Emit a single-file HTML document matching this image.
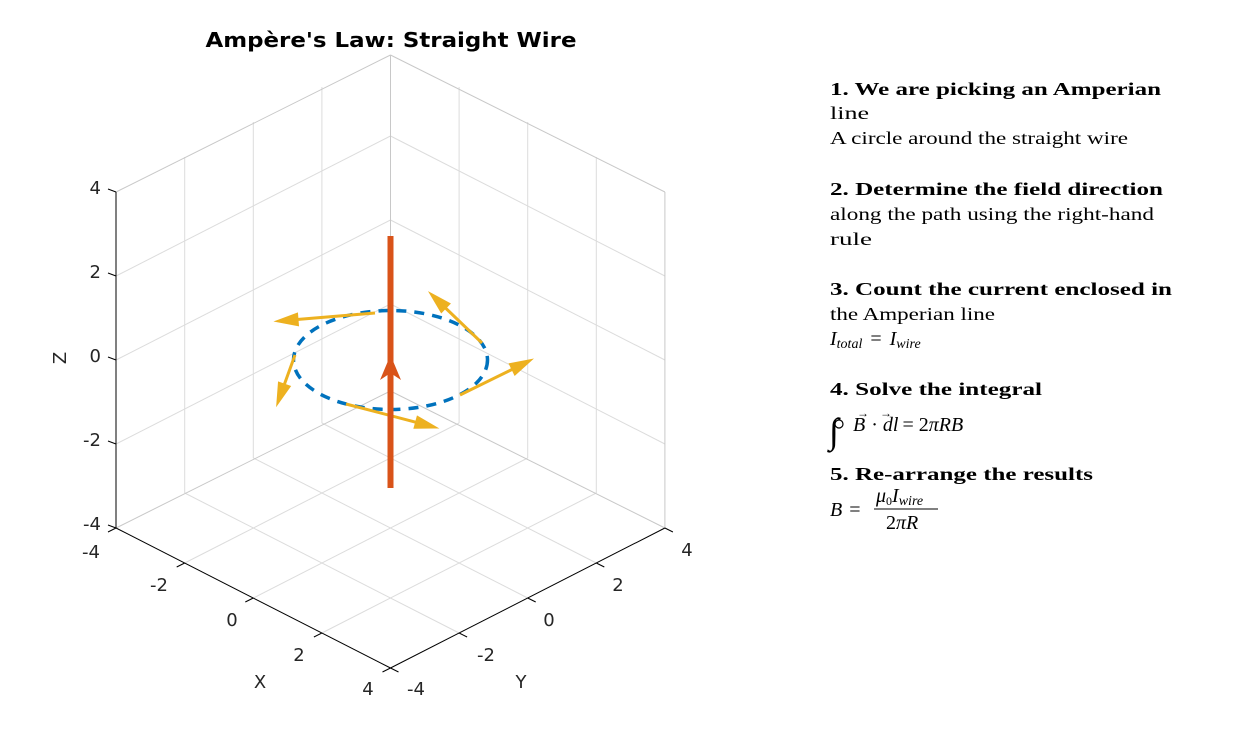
<!DOCTYPE html>
<html><head><meta charset="utf-8"><style>
html,body{margin:0;padding:0;background:#fff;}
svg{display:block}
.t{font-family:"DejaVu Sans","Liberation Sans",sans-serif;font-size:18px;fill:#262626}
.s{font-family:"Liberation Serif","DejaVu Serif",serif;font-size:18px;fill:#000}
.m{font-family:"Liberation Serif","DejaVu Serif",serif;font-size:20px;fill:#000}
.b{font-weight:bold}
.i{font-style:italic}
</style></head><body>
<svg width="1260" height="750" viewBox="0 0 1260 750" xmlns="http://www.w3.org/2000/svg">
<rect width="1260" height="750" fill="#fff"/>
<g stroke="#dcdcdc" stroke-width="1" fill="none">
<line x1="184.7" y1="563" x2="459.1" y2="423"/>
<line x1="253.3" y1="598" x2="527.7" y2="458"/>
<line x1="321.9" y1="633" x2="596.3" y2="493"/>
<line x1="184.7" y1="493" x2="459.1" y2="633"/>
<line x1="253.3" y1="458" x2="527.7" y2="598"/>
<line x1="321.9" y1="423" x2="596.3" y2="563"/>
<line x1="184.7" y1="493" x2="184.7" y2="157"/>
<line x1="253.3" y1="458" x2="253.3" y2="122"/>
<line x1="321.9" y1="423" x2="321.9" y2="87"/>
<line x1="116" y1="444" x2="390.5" y2="304"/>
<line x1="116" y1="360" x2="390.5" y2="220"/>
<line x1="116" y1="276" x2="390.5" y2="136"/>
<line x1="459.1" y1="423" x2="459.1" y2="87"/>
<line x1="527.7" y1="458" x2="527.7" y2="122"/>
<line x1="596.3" y1="493" x2="596.3" y2="157"/>
<line x1="390.5" y1="304" x2="664.9" y2="444"/>
<line x1="390.5" y1="220" x2="664.9" y2="360"/>
<line x1="390.5" y1="136" x2="664.9" y2="276"/>
</g>
<g stroke="#c8c8c8" stroke-width="1" fill="none">
<line x1="116" y1="192" x2="390.5" y2="55"/>
<line x1="390.5" y1="55" x2="664.9" y2="192"/>
<line x1="390.5" y1="55" x2="390.5" y2="391"/>
<line x1="116" y1="528" x2="390.5" y2="391"/>
<line x1="390.5" y1="391" x2="664.9" y2="528"/>
<line x1="664.9" y1="192" x2="664.9" y2="528"/>
</g>
<g stroke="#000" stroke-width="1" fill="none">
<line x1="116" y1="192" x2="116" y2="528"/>
<line x1="116" y1="192" x2="108" y2="189"/>
<line x1="116" y1="276" x2="108" y2="273"/>
<line x1="116" y1="360" x2="108" y2="357"/>
<line x1="116" y1="444" x2="108" y2="441"/>
<line x1="116" y1="528" x2="108" y2="525"/>
<line x1="116" y1="528" x2="390.5" y2="668"/>
<line x1="390.5" y1="668" x2="664.9" y2="528"/>
<line x1="116" y1="528" x2="108" y2="532"/>
<line x1="184.7" y1="563" x2="176.7" y2="567"/>
<line x1="253.3" y1="598" x2="245.3" y2="602"/>
<line x1="321.9" y1="633" x2="313.9" y2="637"/>
<line x1="390.5" y1="668" x2="382.5" y2="672"/>
<line x1="390.5" y1="668" x2="398.5" y2="672"/>
<line x1="459.1" y1="633" x2="467.1" y2="637"/>
<line x1="527.7" y1="598" x2="535.7" y2="602"/>
<line x1="596.3" y1="563" x2="604.3" y2="567"/>
<line x1="664.9" y1="528" x2="672.9" y2="532"/>
</g>
<g class="t" text-anchor="end">
<text x="101" y="194">4</text>
<text x="101" y="278">2</text>
<text x="101" y="362">0</text>
<text x="101" y="446">-2</text>
<text x="101" y="530">-4</text>
</g>
<g class="t" text-anchor="middle">
<text x="91" y="558">-4</text>
<text x="159" y="591">-2</text>
<text x="232" y="626">0</text>
<text x="299" y="661">2</text>
<text x="368" y="695">4</text>
<text x="416" y="695">-4</text>
<text x="486" y="661">-2</text>
<text x="549" y="626">0</text>
<text x="618" y="591">2</text>
<text x="687" y="556">4</text>
<text x="260" y="688">X</text>
<text x="521" y="688">Y</text>
<text x="66" y="358" transform="rotate(-90 66 358)">Z</text>
</g>
<text x="391" y="47" text-anchor="middle" font-family="DejaVu Sans, Liberation Sans, sans-serif" font-weight="bold" font-size="20" textLength="371" lengthAdjust="spacingAndGlyphs" fill="#000">Ampère's Law: Straight Wire</text>
<ellipse cx="390.5" cy="360" rx="97" ry="49.5" fill="none" stroke="#0072BD" stroke-width="3.5" stroke-dasharray="10 8"/>
<g stroke="#EDB120" stroke-width="3" fill="#EDB120">
<line x1="375" y1="313" x2="297" y2="319.5"/>
<polygon points="279,321 296.6,314.5 297.4,324.5"/>
<line x1="482" y1="343" x2="445" y2="307.5"/>
<polygon points="432,295 448.5,303.9 441.5,311.1"/>
<line x1="460" y1="395" x2="512.9" y2="369"/>
<polygon points="529,361 515.1,373.5 510.7,364.5"/>
<line x1="346" y1="404" x2="416.6" y2="422.4"/>
<polygon points="434,427 415.3,427.2 417.9,417.6"/>
<line x1="295" y1="355" x2="284.1" y2="385.1"/>
<polygon points="278,402 279.4,383.4 288.8,386.8"/>
</g>
<line x1="390.5" y1="236" x2="390.5" y2="488" stroke="#D95319" stroke-width="6"/>
<polygon points="390.5,355 380,380 390.5,373 401,380" fill="#D95319"/>
<g class="s">
<text x="830" y="95" class="b" textLength="331" lengthAdjust="spacingAndGlyphs">1. We are picking an Amperian</text>
<text x="830" y="119" textLength="39" lengthAdjust="spacingAndGlyphs">line</text>
<text x="830" y="144" textLength="298" lengthAdjust="spacingAndGlyphs">A circle around the straight wire</text>
<text x="830" y="195" class="b" textLength="333" lengthAdjust="spacingAndGlyphs">2. Determine the field direction</text>
<text x="830" y="220" textLength="324" lengthAdjust="spacingAndGlyphs">along the path using the right-hand</text>
<text x="830" y="245" textLength="42" lengthAdjust="spacingAndGlyphs">rule</text>
<text x="830" y="295" class="b" textLength="342" lengthAdjust="spacingAndGlyphs">3. Count the current enclosed in</text>
<text x="830" y="320" textLength="165" lengthAdjust="spacingAndGlyphs">the Amperian line</text>
<text x="830" y="395" class="b" textLength="212" lengthAdjust="spacingAndGlyphs">4. Solve the integral</text>
<text x="830" y="480" class="b" textLength="263" lengthAdjust="spacingAndGlyphs">5. Re-arrange the results</text>
</g>
<g class="m">
<text x="830" y="345" class="i">I<tspan font-size="14" dy="3">total</tspan><tspan font-style="normal" dy="-3" dx="8">=</tspan><tspan dx="8">I</tspan><tspan font-size="14" dy="3">wire</tspan></text>
<text x="829" y="443" font-size="36" class="i">∫</text>
<circle cx="839" cy="424" r="4" fill="none" stroke="#000" stroke-width="1.2"/>
<text x="853" y="431" class="i">B<tspan dx="6" font-style="normal">·</tspan><tspan dx="5">dl</tspan><tspan dx="4" font-style="normal">= 2</tspan>πRB</text>
<text x="857" y="417" font-size="12">→</text>
<text x="880" y="417" font-size="12">→</text>
<text x="830" y="516" class="i">B<tspan font-style="normal" dx="7">=</tspan></text>
<text x="876" y="502" class="i">μ<tspan font-size="12" font-style="normal" dy="3">0</tspan><tspan dy="-3">I</tspan><tspan font-size="14" dy="3">wire</tspan></text>
<line x1="874" y1="509" x2="938" y2="509" stroke="#000" stroke-width="1"/>
<text x="886" y="529">2<tspan class="i">πR</tspan></text>
</g>
</svg>
</body></html>
